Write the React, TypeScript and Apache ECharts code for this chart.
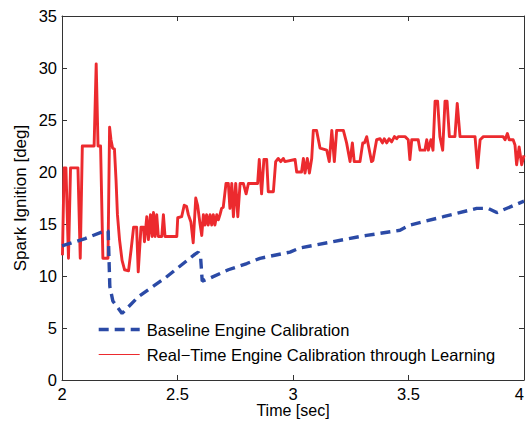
import React, { useEffect, useRef } from "react";
import * as echarts from "echarts";

const xTicks = { min: 2, max: 4, step: 0.5 };
const yTicks = { min: 0, max: 35, step: 5 };

const baselineName = "Baseline Engine Calibration";
const learningName = "Real\u2212Time Engine Calibration through Learning";

const baselineTime = [
  2.0, 2.1, 2.193, 2.2, 2.207, 2.22, 2.26, 2.33, 2.446, 2.576, 2.59, 2.6, 2.607,
  2.641, 2.72, 2.8, 2.857, 2.987, 3.03, 3.174, 3.29, 3.319, 3.463, 3.506, 3.651,
  3.795, 3.845, 3.882, 4.0,
];
const baselineAngle = [
  12.9, 13.6, 14.4, 14.3, 9.0, 7.6, 6.4, 8.0, 9.8, 12.1, 12.3, 11.8, 9.5, 9.8,
  10.6, 11.2, 11.7, 12.3, 12.7, 13.3, 13.8, 13.9, 14.4, 14.9, 15.7, 16.5, 16.5,
  16.1, 17.2,
];

const learningTime = [
  2.002, 2.009, 2.017, 2.028, 2.037, 2.069, 2.079, 2.088, 2.139, 2.148, 2.156,
  2.167, 2.177, 2.199, 2.206, 2.212, 2.219, 2.227, 2.234, 2.24, 2.249, 2.26,
  2.271, 2.288, 2.299, 2.31, 2.323, 2.33, 2.342, 2.353, 2.357, 2.367, 2.374,
  2.383, 2.39, 2.396, 2.403, 2.41, 2.417, 2.432, 2.439, 2.446, 2.497, 2.501,
  2.518, 2.529, 2.539, 2.547, 2.558, 2.568, 2.579, 2.587, 2.597, 2.605, 2.612,
  2.619, 2.626, 2.633, 2.641, 2.648, 2.655, 2.662, 2.67, 2.677, 2.684, 2.691,
  2.698, 2.71, 2.72, 2.727, 2.735, 2.742, 2.752, 2.761, 2.771, 2.785, 2.797,
  2.807, 2.847, 2.854, 2.864, 2.874, 2.886, 2.893, 2.915, 2.925, 2.936, 2.947,
  2.958, 2.965, 3.009, 3.016, 3.037, 3.045, 3.052, 3.062, 3.071, 3.081, 3.088,
  3.102, 3.117, 3.146, 3.157, 3.168, 3.179, 3.189, 3.218, 3.232, 3.247, 3.257,
  3.265, 3.29, 3.302, 3.309, 3.319, 3.326, 3.34, 3.346, 3.362, 3.377, 3.387,
  3.395, 3.406, 3.416, 3.427, 3.439, 3.449, 3.456, 3.485, 3.499, 3.506, 3.514,
  3.542, 3.55, 3.571, 3.579, 3.586, 3.597, 3.606, 3.615, 3.626, 3.636, 3.648,
  3.658, 3.667, 3.677, 3.701, 3.711, 3.723, 3.788, 3.799, 3.81, 3.824, 3.91,
  3.918, 3.928, 3.936, 3.953, 3.961, 3.968, 3.979, 3.99, 4.0,
];
const learningAngle = [
  12.0, 20.4, 20.4, 11.7, 20.4, 20.4, 11.7, 22.5, 22.5, 30.4, 22.5, 22.5, 11.7,
  11.7, 24.3, 23.1, 22.3, 22.2, 19.2, 15.9, 13.5, 11.5, 10.6, 10.5, 12.5, 14.7,
  14.7, 10.4, 14.7, 14.7, 13.3, 15.7, 13.5, 15.9, 13.8, 16.1, 13.8, 15.9, 13.8,
  13.8, 15.9, 13.8, 13.8, 15.6, 15.7, 16.8, 16.7, 15.9, 15.2, 13.2, 17.5, 16.8,
  15.1, 13.9, 15.9, 14.9, 15.9, 14.9, 15.9, 14.9, 15.9, 14.9, 15.9, 15.4, 15.9,
  16.5, 16.6, 18.9, 18.9, 16.5, 18.9, 15.7, 18.9, 15.7, 18.9, 18.9, 17.9, 18.9,
  18.9, 21.2, 17.9, 21.2, 21.2, 18.1, 18.1, 21.0, 21.3, 21.0, 21.3, 21.0, 21.2,
  20.0, 20.0, 21.3, 19.9, 21.3, 19.9, 21.3, 24.0, 24.0, 22.3, 22.1, 21.0, 24.0,
  21.0, 24.0, 24.0, 22.8, 21.0, 22.8, 21.0, 21.0, 22.8, 22.8, 23.4, 22.6, 21.0,
  21.1, 23.1, 23.2, 22.8, 23.2, 22.8, 23.2, 22.9, 23.4, 23.2, 23.4, 23.4, 23.1,
  21.2, 23.1, 23.1, 22.1, 22.1, 23.1, 22.1, 23.1, 22.1, 26.8, 26.8, 23.4, 22.1,
  26.8, 26.8, 23.4, 23.4, 26.6, 23.4, 23.4, 20.4, 23.1, 23.4, 23.4, 23.1, 23.7,
  23.1, 23.1, 22.6, 20.7, 22.4, 20.7, 21.6,
];

const FONT = "'Liberation Sans', Arial, Helvetica, sans-serif";
const AXIS_COLOR = "#333333";
const BLUE = "#2b4aa6";
const RED = "#ec2a2e";

export default function App() {
  const ref = useRef<HTMLDivElement>(null);

  useEffect(() => {
    if (!ref.current) return;
    const chart = echarts.init(ref.current, undefined, { renderer: "svg" });

    const zip = (xs: number[], ys: number[]) => xs.map((x, i) => [x, ys[i]]);

    const axisCommon = {
      axisLine: { show: true, onZero: false, lineStyle: { color: AXIS_COLOR, width: 1 } },
      axisTick: { show: true, inside: true, length: 5, lineStyle: { color: AXIS_COLOR, width: 1 } },
      splitLine: { show: false },
    };

    const option = {
      animation: false,
      backgroundColor: "#ffffff",
      textStyle: { fontFamily: FONT },
      grid: {
        left: 62,
        right: 3,
        top: 16,
        bottom: 41,
        containLabel: false,
        outerBoundsMode: "none",
      },
      xAxis: [
        {
          type: "value",
          position: "bottom",
          min: xTicks.min,
          max: xTicks.max,
          interval: xTicks.step,
          ...axisCommon,
          axisLabel: {
            show: true,
            color: "#000",
            fontSize: 16.5,
            fontFamily: FONT,
            margin: 5,
            showMinLabel: true,
            showMaxLabel: true,
            hideOverlap: false,
            alignMaxLabel: "right",
          },
          name: "Time [sec]",
          nameLocation: "middle",
          nameGap: 22,
          nameMoveOverlap: false,
          nameTextStyle: { color: "#000", fontSize: 16, fontFamily: FONT, lineHeight: 17 },
        },
        {
          type: "value",
          position: "top",
          min: xTicks.min,
          max: xTicks.max,
          interval: xTicks.step,
          ...axisCommon,
          axisLabel: { show: false },
        },
      ],
      yAxis: [
        {
          type: "value",
          position: "left",
          min: yTicks.min,
          max: yTicks.max,
          interval: yTicks.step,
          ...axisCommon,
          axisLabel: { show: true, color: "#000", fontSize: 16.5, fontFamily: FONT, margin: 5 },
          name: "Spark Ignition [deg]",
          nameLocation: "middle",
          nameGap: 33,
          nameMoveOverlap: false,
          nameTextStyle: { color: "#000", fontSize: 17, fontFamily: FONT },
        },
        {
          type: "value",
          position: "right",
          min: yTicks.min,
          max: yTicks.max,
          interval: yTicks.step,
          ...axisCommon,
          axisLabel: { show: false },
        },
      ],
      legend: {
        orient: "vertical",
        left: 97,
        top: 321,
        itemWidth: 41,
        itemHeight: 16,
        itemGap: 8,
        padding: 0,
        itemStyle: { opacity: 0 },
        textStyle: {
          color: "#000",
          fontSize: 16.5,
          fontFamily: FONT,
          lineHeight: 16,
          padding: [0, 0, 0, 2],
        },
        data: [
          {
            name: baselineName,
            itemStyle: { opacity: 0 },
            lineStyle: { color: BLUE, width: 3.4, type: [10, 6] },
          },
          {
            name: learningName,
            itemStyle: { opacity: 0 },
            lineStyle: { color: RED, width: 1 },
          },
        ],
      },
      series: [
        {
          name: learningName,
          type: "line",
          xAxisIndex: 0,
          yAxisIndex: 0,
          data: zip(learningTime, learningAngle),
          symbol: "none",
          showSymbol: false,
          lineStyle: { color: RED, width: 2.9, join: "round" },
          itemStyle: { color: RED },
          z: 2,
        },
        {
          name: baselineName,
          type: "line",
          xAxisIndex: 0,
          yAxisIndex: 0,
          data: zip(baselineTime, baselineAngle),
          symbol: "none",
          showSymbol: false,
          lineStyle: { color: BLUE, width: 3.4, type: [10, 6], cap: "butt" },
          itemStyle: { color: BLUE },
          z: 3,
        },
      ],
    };

    chart.setOption(option as any);
    return () => chart.dispose();
  }, []);

  return (
    <div
      ref={ref}
      style={{ position: "fixed", left: 0, top: 0, width: 527, height: 421, background: "#fff" }}
    />
  );
}
